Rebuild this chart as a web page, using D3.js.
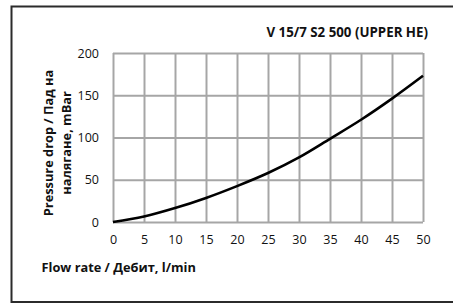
<!DOCTYPE html>
<html><head><meta charset="utf-8">
<script src="https://cdn.jsdelivr.net/npm/d3@7"></script>
<style>html,body{margin:0;padding:0;background:#fff;}svg{display:block;}</style>
</head><body>
<svg id="chart" width="453" height="306"></svg>
<script>
const flowRates = [0, 5, 10, 15, 20, 25, 30, 35, 40, 45, 50];
const pressureDrop = [0, 6.5, 16.5, 28.5, 42.5, 58, 76.5, 98.5, 121, 146, 173];
const xTicks = [0, 5, 10, 15, 20, 25, 30, 35, 40, 45, 50];
const yTicks = [0, 50, 100, 150, 200];
const titleText = "V 15/7 S2 500 (UPPER HE)";
const xLabel = "Flow rate / Дебит, l/min";
const yLabelLines = ["Pressure drop / Пад на", "налягане, mBar"];

const FONT = "'Open Sans', 'Liberation Sans', sans-serif";
const TXT = "#111";
const GRID = "#a6a6a6";
const svg = d3.select("#chart");

svg.append("rect").attr("x", 11.5).attr("y", 6.5).attr("width", 460).attr("height", 295.5)
  .attr("fill", "none").attr("stroke", "#2b2b2b").attr("stroke-width", 2);

const m = {left: 113, right: 423, top: 53, bottom: 222};
const x = d3.scaleLinear().domain([0, 50]).range([m.left, m.right]);
const y = d3.scaleLinear().domain([0, 200]).range([m.bottom, m.top]);

const xGrid = svg.append("g").attr("transform", `translate(0,${m.bottom})`)
  .call(d3.axisBottom(x).tickValues(xTicks).tickSize(-(m.bottom - m.top)).tickFormat(""));
xGrid.select(".domain").remove();
xGrid.selectAll(".tick line").attr("stroke", GRID).attr("stroke-width", 2);

const yGrid = svg.append("g").attr("transform", `translate(${m.left},0)`)
  .call(d3.axisLeft(y).tickValues(yTicks).tickSize(-(m.right - m.left)).tickFormat(""));
yGrid.select(".domain").remove();
yGrid.selectAll(".tick line").attr("stroke", GRID).attr("stroke-width", 2);

const xAxis = d3.axisBottom(x).tickValues(xTicks).tickSize(0).tickPadding(13);
const xa = svg.append("g").attr("transform", `translate(0,${m.bottom})`).call(xAxis);
xa.select(".domain").remove();
xa.selectAll("text").attr("font-family", FONT).attr("font-size", 12.5).attr("fill", TXT);

const yAxis = d3.axisLeft(y).tickValues(yTicks).tickSize(0).tickPadding(14);
const ya = svg.append("g").attr("transform", `translate(${m.left},0)`).call(yAxis);
ya.select(".domain").remove();
ya.selectAll("text").attr("font-family", FONT).attr("font-size", 12.5).attr("fill", TXT);

const line = d3.line().x((d, i) => x(flowRates[i])).y(d => y(d)).curve(d3.curveMonotoneX);
svg.append("path").datum(pressureDrop).attr("d", line)
  .attr("fill", "none").attr("stroke", "#000").attr("stroke-width", 2.6);

svg.append("text").attr("x", 428).attr("y", 36.5).attr("text-anchor", "end")
  .attr("font-family", FONT).attr("font-weight", "bold").attr("font-size", 13.3)
  .attr("fill", TXT).text(titleText);

svg.append("text").attr("x", 41.5).attr("y", 272)
  .attr("font-family", FONT).attr("font-weight", "bold").attr("font-size", 12.8)
  .attr("fill", TXT).text(xLabel);

const yl = svg.append("text").attr("transform", "translate(52.5,143) rotate(-90)")
  .attr("text-anchor", "middle").attr("font-family", FONT).attr("font-weight", "bold")
  .attr("font-size", 12.8).attr("fill", TXT);
yl.selectAll("tspan").data(yLabelLines).join("tspan")
  .attr("x", 0).attr("dy", (d, i) => i === 0 ? 0 : 18).text(d => d);
</script>
</body></html>
